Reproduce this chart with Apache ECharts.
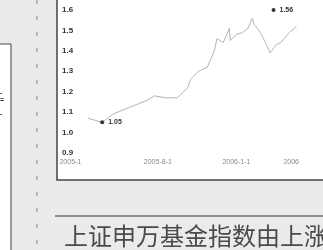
<!DOCTYPE html>
<html>
<head>
<meta charset="utf-8">
<script src="https://cdn.jsdelivr.net/npm/echarts@6/dist/echarts.min.js"></script>
<style>
  html, body { margin: 0; padding: 0; background: #ebebee; }
  #chart { width: 323px; height: 250px; }
</style>
</head>
<body>
<div id="chart"></div>
<script>
// 交易日序号 / 指数值
const dayIndex = [34, 42, 50, 62, 79, 102, 109, 122, 135, 147, 150, 159, 169, 172, 177, 180, 187, 194, 195, 202, 209, 215, 220, 222, 229, 235, 240, 247, 252, 262, 270];
const indexValue = [1.07, 1.06, 1.05, 1.09, 1.12, 1.16, 1.18, 1.17, 1.17, 1.22, 1.26, 1.30, 1.32, 1.35, 1.40, 1.46, 1.44, 1.51, 1.45, 1.48, 1.49, 1.51, 1.56, 1.53, 1.49, 1.44, 1.39, 1.43, 1.44, 1.49, 1.52];
const xLabelValues = [14, 113, 202, 264];
const xLabelText = ['2005-1', '2005-8-1', '2006-1-1', '2006'];
const bodyText = '上证申万基金指数由上涨';

const chart = echarts.init(document.getElementById('chart'));

let points = [];
for (let i = 0; i < dayIndex.length; i++) {
    points.push([dayIndex[i], indexValue[i]]);
}

chart.setOption({
    backgroundColor: '#ebebee',
    animation: false,
    graphic: [
        // 左侧白框
        { type: 'rect', z: -10, shape: { x: -2, y: 44, width: 13, height: 210 },
          style: { fill: '#fff', stroke: '#444', lineWidth: 1 } },
        { type: 'text', z: -9, left: 0, top: 90, style: { text: '-\n=\n\n-', fill: '#333', font: 'bold 7px sans-serif' } },
        // 虚线
        { type: 'line', z: -10, shape: { x1: 37, y1: 0, x2: 37, y2: 250 },
          style: { stroke: '#888', lineWidth: 1, lineDash: [4, 12] } },
        // 图表面板
        { type: 'rect', z: -10, shape: { x: 57, y: -5, width: 280, height: 185 },
          style: { fill: '#fff', stroke: '#444', lineWidth: 1.5 } },
        // 下方分隔线与正文
        { type: 'line', z: -10, shape: { x1: 55, y1: 216, x2: 330, y2: 216 },
          style: { stroke: '#333', lineWidth: 1 } },
        { type: 'text', z: -9, left: 64, top: 224,
          style: { text: bodyText, fill: '#4a4a4a', font: '24px "Noto Sans CJK SC"' } }
    ],
    grid: { left: 58, top: 10, width: 300, height: 143 },
    xAxis: {
        type: 'value',
        min: 0,
        max: 300,
        axisLine: { show: false },
        axisTick: { show: false },
        splitLine: { show: false },
        axisLabel: {
            customValues: xLabelValues,
            margin: 6,
            color: '#8a8a8a',
            fontSize: 7,
            formatter: function (v) {
                return xLabelText[xLabelValues.indexOf(v)] || '';
            }
        }
    },
    yAxis: {
        type: 'value',
        min: 0.9,
        max: 1.6,
        interval: 0.1,
        axisLine: { show: false },
        axisTick: { show: false },
        splitLine: { show: false },
        axisLabel: {
            inside: true,
            margin: 4,
            color: '#333',
            fontSize: 8,
            fontWeight: 'bold',
            formatter: function (v) { return v.toFixed(1); }
        }
    },
    series: [
        {
            type: 'line',
            data: points,
            symbol: 'none',
            lineStyle: { color: '#b5b5b5', width: 1 },
            markPoint: {
                symbol: 'circle',
                symbolSize: 4,
                itemStyle: { color: '#333' },
                label: {
                    position: 'right',
                    distance: 4,
                    color: '#333',
                    fontSize: 7,
                    fontWeight: 'bold',
                    formatter: function (p) { return p.value.toFixed(2); }
                },
                data: [
                    { type: 'min', valueDim: 'y' },
                    { coord: [244, 1.6], value: 1.56 }
                ]
            }
        }
    ]
});
</script>
</body>
</html>
